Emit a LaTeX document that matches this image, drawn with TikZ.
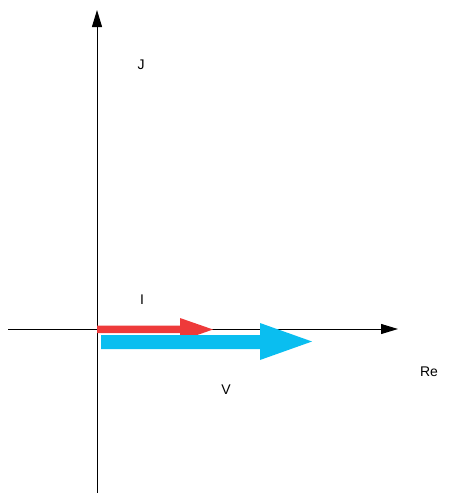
\documentclass[tikz,border=0pt]{standalone}
\usepackage{fontspec}
\setmainfont{Liberation Sans}
\usetikzlibrary{arrows.meta}
\definecolor{ired}{RGB}{238,58,58}
\definecolor{vblue}{RGB}{10,190,240}
\begin{document}
\begin{tikzpicture}[x=1pt,y=-1pt,
  axis/.style={line width=1pt,-{Triangle[length=17pt,width=10pt]}},
  lbl/.style={font=\fontsize{14}{16}\selectfont,inner sep=0pt}]
\useasboundingbox (0,0) rectangle (450,493);
\coordinate (o) at (97,329);
\coordinate (xs) at (8,329);
\coordinate (xe) at (398,329);
\coordinate (ys) at (97,493);
\coordinate (ye) at (97,10);
\draw[axis] (xs) -- (xe);
\draw[axis] (ys) -- (ye);
% current phasor I
\fill[ired] (97,325.5) -- (180,325.5) -- (180,318) -- (213,329.5) -- (180,341) -- (180,333) -- (97,333) -- cycle;
% voltage phasor V
\fill[vblue] (101,335) -- (260,335) -- (260,323) -- (312,341.5) -- (260,360) -- (260,349) -- (101,349) -- cycle;
\node[lbl] (J) at (141,65) {J};
\node[lbl] (I) at (142,300) {I};
\node[lbl] (V) at (226,390) {V};
\node[lbl] (Re) at (429,372) {Re};
\end{tikzpicture}
\end{document}
